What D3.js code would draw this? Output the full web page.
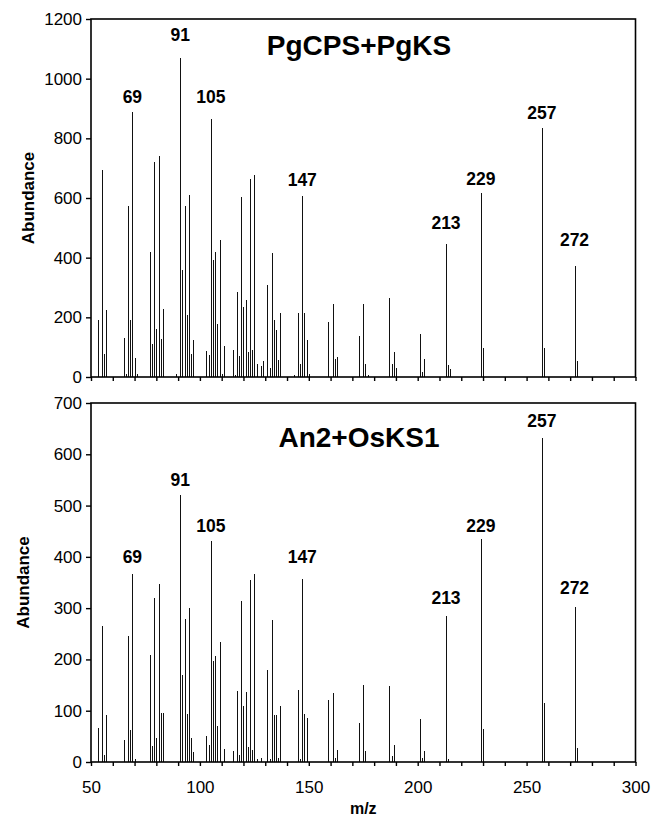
<!DOCTYPE html>
<html>
<head>
<meta charset="utf-8">
<script src="https://cdn.jsdelivr.net/npm/d3@7"></script>
<style>
  body { margin: 0; background: #fff; }
  svg text { font-family: "Liberation Sans", Arial, sans-serif; fill: #000; }
</style>
</head>
<body>
<div id="chart"></div>
<script>
// spectrum 1 : PgCPS+PgKS
const topMz = [53, 55, 56, 57, 65, 66, 67, 68, 69, 70, 71, 77, 78, 79, 80, 81, 82, 83, 89,
  91, 92, 93, 94, 95, 96, 97, 103, 104, 105, 106, 107, 108, 109, 110, 111,
  115, 116, 117, 118, 119, 120, 121, 122, 123, 124, 125, 126, 128, 129,
  131, 132, 133, 134, 135, 136, 137, 143, 145, 146, 147, 148, 149, 150,
  159, 161, 162, 163, 173, 175, 176, 177, 187, 188, 189, 190, 201, 202, 203,
  213, 214, 215, 229, 230, 257, 258, 272, 273];
const topAbundance = [192, 694, 76, 226, 130, 9, 573, 192, 887, 65, 9, 420, 112, 721, 160, 741, 129, 227, 9,
  1070, 360, 572, 207, 609, 76, 125, 87, 73, 866, 392, 418, 179, 458, 11, 105,
  92, 6, 284, 69, 602, 235, 258, 84, 665, 90, 677, 42, 36, 54,
  308, 30, 417, 192, 156, 56, 215, 8, 215, 45, 606, 215, 125, 11,
  183, 246, 61, 67, 136, 244, 42, 8, 264, 42, 83, 30, 143, 17, 61,
  447, 41, 26, 617, 98, 835, 98, 372, 54];

// spectrum 2 : An2+OsKS1
const bottomMz = [53, 55, 56, 57, 65, 67, 68, 69, 70, 77, 78, 79, 80, 81, 82, 83,
  91, 92, 93, 94, 95, 96, 97, 103, 104, 105, 106, 107, 108, 109, 111,
  115, 117, 118, 119, 120, 121, 122, 123, 124, 125, 126, 128,
  131, 132, 133, 134, 135, 136, 137, 145, 146, 147, 148, 149,
  159, 161, 162, 163, 173, 175, 176, 187, 188, 189, 201, 202, 203,
  213, 214, 229, 230, 257, 258, 272, 273];
const bottomAbundance = [66, 265, 13, 91, 42, 246, 63, 367, 5, 208, 31, 320, 46, 347, 96, 96,
  521, 169, 278, 94, 300, 46, 19, 50, 34, 431, 197, 206, 70, 234, 25,
  22, 138, 14, 313, 109, 137, 29, 355, 23, 367, 5, 7,
  179, 5, 276, 91, 91, 7, 110, 141, 5, 357, 94, 86,
  120, 135, 7, 23, 76, 151, 21, 148, 11, 34, 83, 7, 22,
  285, 5, 434, 64, 632, 116, 302, 27];

const peakLabels = [69, 91, 105, 147, 213, 229, 257, 272];
const titles = ["PgCPS+PgKS", "An2+OsKS1"];
const topYTicks = [0, 200, 400, 600, 800, 1000, 1200];
const bottomYTicks = [0, 100, 200, 300, 400, 500, 600, 700];
const xTickLabels = [50, 100, 150, 200, 250, 300];
const xMinorStep = 10;

// height (in abundance units) where each peak label sits
const topLabelLevel = [940, 1147, 940, 660, 517, 664, 886, 459];
const bottomLabelLevel = [400, 550, 461, 400, 321, 461, 665, 339];

const width = 652, height = 825;

const svg = d3.select('#chart').append('svg')
  .attr('width', width)
  .attr('height', height);

const x = d3.scaleLinear()
  .domain([50, 300])
  .range([91, 635.5]);

function drawPanel(opt) {
  const y = d3.scaleLinear()
    .domain([0, opt.yTicks[opt.yTicks.length - 1]])
    .range([opt.bottom, opt.top]);

  const g = svg.append('g');

  // bars (one thin line per m/z)
  g.selectAll('line.peak')
    .data(d3.zip(opt.mz, opt.abundance))
    .enter().append('line')
    .attr('class', 'peak')
    .attr('x1', d => Math.round(x(d[0])) + 0.5)
    .attr('x2', d => Math.round(x(d[0])) + 0.5)
    .attr('y1', y(0))
    .attr('y2', d => y(d[1]))
    .attr('stroke', '#111')
    .attr('stroke-width', 1)
    .attr('shape-rendering', 'crispEdges');

  // frame
  g.append('rect')
    .attr('x', x.range()[0])
    .attr('y', opt.top)
    .attr('width', x.range()[1] - x.range()[0])
    .attr('height', opt.bottom - opt.top)
    .attr('fill', 'none')
    .attr('stroke', '#000')
    .attr('stroke-width', 1.6);

  const yAxis = g.append('g')
    .attr('transform', 'translate(' + x.range()[0] + ',0)')
    .call(d3.axisLeft(y).tickValues(opt.yTicks).tickFormat(d3.format('d')).tickSize(5).tickPadding(4));
  yAxis.select('.domain').remove();
  yAxis.selectAll('line').attr('stroke-width', 1.4);
  yAxis.selectAll('text').style('font-size', '17px').attr('fill', '#000');

  const xAxis = g.append('g')
    .attr('transform', 'translate(0,' + opt.bottom + ')')
    .call(d3.axisBottom(x)
      .tickValues(d3.range(50, 301, xMinorStep))
      .tickSize(4)
      .tickPadding(15)
      .tickFormat(d => (opt.showX && xTickLabels.includes(d)) ? d : ''));
  xAxis.select('.domain').remove();
  xAxis.selectAll('line').attr('stroke-width', 1.4);
  xAxis.selectAll('text').style('font-size', '17px').attr('fill', '#000');

  g.append('text')
    .attr('x', 359)
    .attr('y', opt.titleY)
    .attr('text-anchor', 'middle')
    .style('font-size', '28px')
    .style('font-weight', 'bold')
    .text(opt.title);

  g.selectAll('text.peaklabel')
    .data(peakLabels)
    .enter().append('text')
    .attr('class', 'peaklabel')
    .attr('x', d => x(d))
    .attr('y', (d, i) => y(opt.labelLevel[i]))
    .attr('dy', '0.36em')
    .attr('text-anchor', 'middle')
    .style('font-size', '17.5px')
    .style('font-weight', 'bold')
    .text(d => d);

  g.append('text')
    .attr('transform', 'translate(' + opt.yLabelX + ',' + ((opt.top + opt.bottom) / 2) + ') rotate(-90)')
    .attr('text-anchor', 'middle')
    .style('font-size', '17px')
    .style('font-weight', 'bold')
    .text('Abundance');
}

drawPanel({
  mz: topMz, abundance: topAbundance, yTicks: topYTicks,
  top: 19, bottom: 377, title: titles[0], titleY: 55,
  labelLevel: topLabelLevel, showX: false, yLabelX: 34
});

drawPanel({
  mz: bottomMz, abundance: bottomAbundance, yTicks: bottomYTicks,
  top: 403, bottom: 762, title: titles[1], titleY: 447,
  labelLevel: bottomLabelLevel, showX: true, yLabelX: 29
});

svg.append('text')
  .attr('x', (x.range()[0] + x.range()[1]) / 2)
  .attr('y', 814)
  .attr('text-anchor', 'middle')
  .style('font-size', '16px')
  .style('font-weight', 'bold')
  .text('m/z');
</script>
</body>
</html>
